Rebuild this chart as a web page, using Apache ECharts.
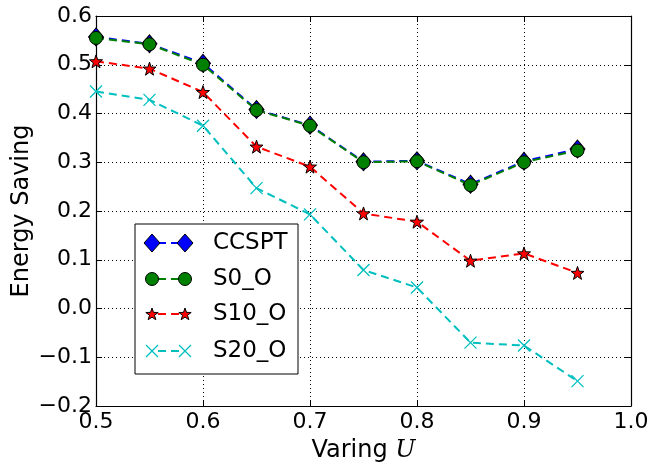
<!DOCTYPE html>
<html><head><meta charset="utf-8">
<script src="https://cdn.jsdelivr.net/npm/echarts@6/dist/echarts.min.js"></script>
<style>html,body{margin:0;padding:0;background:#fff}#c{width:654px;height:467px}</style>
</head><body><div id="c"></div>
<script>
const xValues = [0.5,0.55,0.6,0.65,0.7,0.75,0.8,0.85,0.9,0.95];
const ccspt = [0.557,0.543,0.503,0.408,0.376,0.301,0.303,0.255,0.302,0.327];
const s0o   = [0.555,0.542,0.500,0.407,0.375,0.300,0.302,0.253,0.300,0.324];
const s10o  = [0.507,0.492,0.444,0.332,0.291,0.195,0.178,0.098,0.113,0.073];
const s20o  = [0.445,0.428,0.375,0.247,0.193,0.079,0.043,-0.070,-0.076,-0.149];
const seriesNames = ['CCSPT','S0_O','S10_O','S20_O'];
const xTicks = [0.5,0.6,0.7,0.8,0.9,1.0];
const yTicks = [-0.2,-0.1,0.0,0.1,0.2,0.3,0.4,0.5,0.6];

const FONT = 'DejaVu Sans';
const STAR = 'path://M0,-10 L2.35,-3.24 L9.51,-3.09 L3.8,1.24 L5.88,8.09 L0,4 L-5.88,8.09 L-3.8,1.24 L-9.51,-3.09 L-2.35,-3.24Z';
const XMARK = 'path://M0,0 L10,10 M10,0 L0,10';
const colors = ['#0000ff','#008000','#ff0000','#00bfbf'];
const symbols = ['diamond','circle',STAR,XMARK];
const sizes = [[15,18],13,13,12];
const datas = [ccspt,s0o,s10o,s20o];

const chart = echarts.init(document.getElementById('c'), null, {renderer:'canvas'});
const fmt = v => { const s = Math.abs(v).toFixed(1); return (v < -1e-9 ? '\u2212' : '') + s; };

const series = datas.map((d,i)=>({
  name: seriesNames[i], type:'line',
  data: d.map((v,j)=>[xValues[j], v]),
  symbol: symbols[i], symbolSize: sizes[i],
  lineStyle:{color:colors[i], width:2, type:[8,5]},
  itemStyle: i===3 ? {color:'rgba(0,0,0,0)', borderColor:colors[i], borderWidth:1.3}
                   : {color:colors[i], borderColor:'#000', borderWidth:1},
  z: 2+i, animation:false
}));

const axisCommon = {
  axisLine:{show:true, onZero:false, lineStyle:{color:'#000', width:1.2}},
  axisTick:{show:true, inside:true, length:6, lineStyle:{color:'#000'}}
};

chart.setOption({
  animation:false,
  grid:{left:96, right:23, top:16, bottom:61, containLabel:false, outerBoundsMode:'none'},
  xAxis:[Object.assign({type:'value', min:0.5, max:1.0, interval:0.1,
    axisLabel:{fontFamily:FONT, fontSize:22, color:'#000', margin:5, formatter:v=>fmt(v)},
    splitLine:{show:true, lineStyle:{color:'#000', type:[1,3], width:1}},
    name:'Varing {i|U}', nameLocation:'middle', nameGap:33,
    nameTextStyle:{fontFamily:FONT, fontSize:24, color:'#000',
      rich:{i:{fontFamily:'DejaVu Serif', fontStyle:'italic', fontSize:24, color:'#000'}}}
  }, axisCommon),
  Object.assign({type:'value', position:'top', min:0.5, max:1.0, interval:0.1,
    axisLabel:{show:false}, splitLine:{show:false}}, axisCommon)],
  yAxis:[Object.assign({type:'value', min:-0.2, max:0.6, interval:0.1,
    axisLabel:{fontFamily:FONT, fontSize:22, color:'#000', margin:4, formatter:v=>fmt(v)},
    splitLine:{show:true, lineStyle:{color:'#000', type:[1,3], width:1}},
    name:'Energy Saving', nameLocation:'middle', nameGap:62, nameRotate:90, nameMoveOverlap:false,
    nameTextStyle:{fontFamily:FONT, fontSize:24, color:'#000'}
  }, axisCommon),
  Object.assign({type:'value', position:'right', min:-0.2, max:0.6, interval:0.1,
    axisLabel:{show:false}, splitLine:{show:false}}, axisCommon)],
  series: series
});

// legend drawn as graphic (matplotlib style: marker - line - marker)
const lg = {x:135, y:224, w:163, h:150};
const rowY = [243,279,314,351];
const m1 = 152, m2 = 185, tx = 213;
const els = [{type:'rect', shape:{x:lg.x, y:lg.y, width:lg.w, height:lg.h},
  style:{fill:'#fff', stroke:'#000', lineWidth:1}, z:100}];
function marker(i, cx, cy){
  if(i===0) return {type:'polygon', shape:{points:[[cx,cy-9],[cx+8,cy],[cx,cy+9],[cx-8,cy]]},
    style:{fill:colors[0], stroke:'#000', lineWidth:1}, z:102};
  if(i===1) return {type:'circle', shape:{cx:cx, cy:cy, r:6.5}, style:{fill:colors[1], stroke:'#000', lineWidth:1}, z:102};
  if(i===2){
    const pts=[]; for(let k=0;k<10;k++){const a=-Math.PI/2+k*Math.PI/5; const r=k%2?2.6:6.5; pts.push([cx+r*Math.cos(a), cy+0.5+r*Math.sin(a)]);}
    return {type:'polygon', shape:{points:pts}, style:{fill:colors[2], stroke:'#000', lineWidth:1}, z:102};
  }
  return {type:'group', z:102, children:[
    {type:'line', shape:{x1:cx-6,y1:cy-6,x2:cx+6,y2:cy+6}, style:{stroke:colors[3], lineWidth:1.3}, z:102},
    {type:'line', shape:{x1:cx-6,y1:cy+6,x2:cx+6,y2:cy-6}, style:{stroke:colors[3], lineWidth:1.3}, z:102}]};
}
seriesNames.forEach((n,i)=>{
  const y=rowY[i];
  els.push({type:'line', shape:{x1:m1,y1:y,x2:m2,y2:y}, style:{stroke:colors[i], lineWidth:2, lineDash:[8,5], lineDashOffset:-6}, z:101});
  els.push(marker(i,m1,y)); els.push(marker(i,m2,y));
  els.push({type:'text', x:tx, y:y, style:{text:n, font:'23px "DejaVu Sans"', fill:'#000', textVerticalAlign:'middle', verticalAlign:'middle'}, z:102});
});
chart.setOption({graphic:els});
</script></body></html>
